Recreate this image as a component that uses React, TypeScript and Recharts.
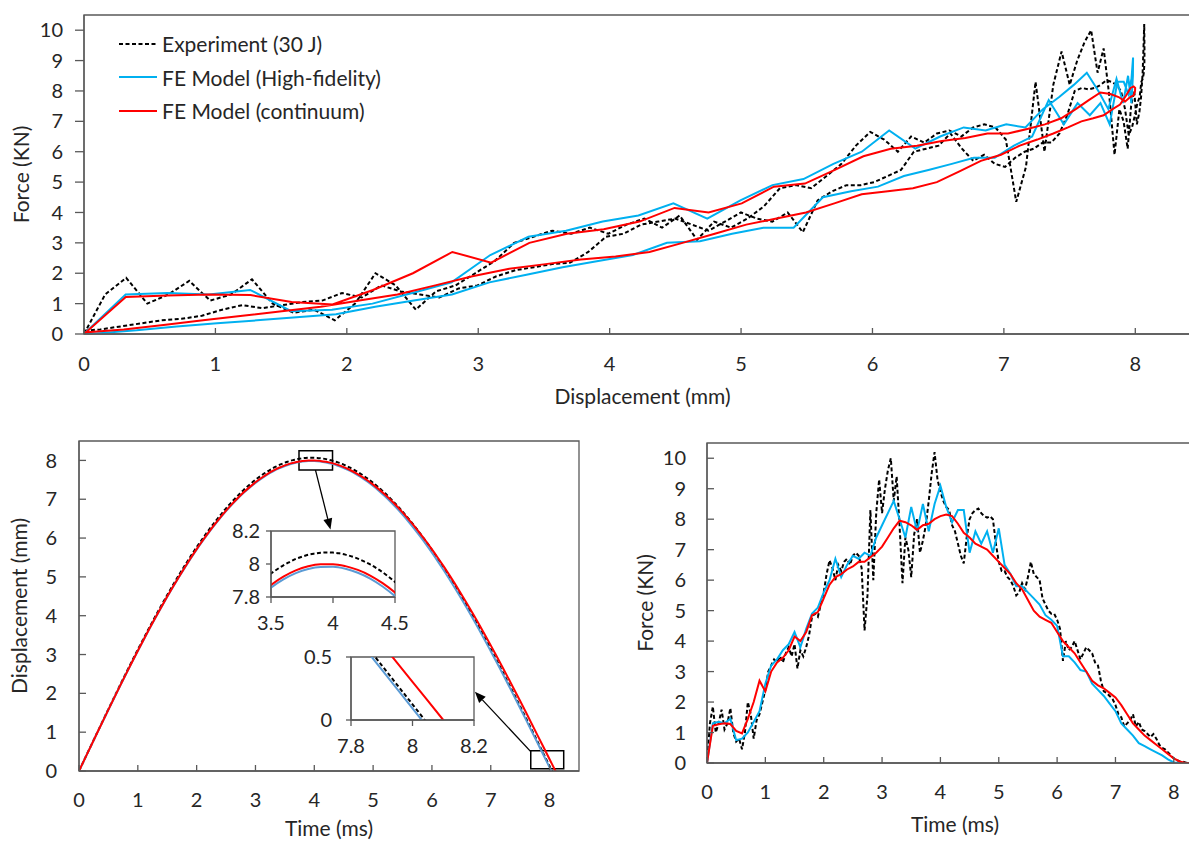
import React from "react";
import {
  LineChart,
  Line,
  XAxis,
  YAxis,
  ReferenceArea,
  ReferenceLine,
  Legend,
  Label,
} from "recharts";

// sampling times (ms)
const simTime = [
  0, 0.1, 0.2, 0.3, 0.4, 0.5, 0.6, 0.7, 0.8, 0.9,
  1, 1.1, 1.2, 1.3, 1.4, 1.5, 1.6, 1.7, 1.8, 1.9,
  2, 2.1, 2.2, 2.3, 2.4, 2.5, 2.6, 2.7, 2.8, 2.9,
  3, 3.1, 3.2, 3.3, 3.4, 3.5, 3.6, 3.7, 3.8, 3.9,
  4, 4.1, 4.2, 4.3, 4.4, 4.5, 4.6, 4.7, 4.8, 4.9,
  5, 5.1, 5.2, 5.3, 5.4, 5.5, 5.6, 5.7, 5.8, 5.9,
  6, 6.1, 6.2, 6.3, 6.4, 6.5, 6.6, 6.7, 6.8, 6.9,
  7, 7.1, 7.2, 7.3, 7.4, 7.5, 7.6, 7.7, 7.8, 7.9,
  8, 8.1, 8.2, 8.3,
];

const expTime = [
  0, 0.05, 0.1, 0.15, 0.2, 0.25, 0.3, 0.35, 0.4, 0.45, 0.5, 0.55, 0.6, 0.65, 0.7, 0.75, 0.8, 0.85, 0.9, 0.95,
  1, 1.05, 1.1, 1.15, 1.2, 1.25, 1.3, 1.35, 1.4, 1.45, 1.5, 1.55, 1.6, 1.65, 1.7, 1.75, 1.8, 1.85, 1.9, 1.95,
  2, 2.05, 2.1, 2.15, 2.2, 2.25, 2.3, 2.35, 2.4, 2.45, 2.5, 2.55, 2.6, 2.65, 2.7, 2.75, 2.8, 2.85, 2.9, 2.95,
  3, 3.05, 3.1, 3.15, 3.2, 3.25, 3.3, 3.35, 3.4, 3.45, 3.5, 3.55, 3.6, 3.65, 3.7, 3.75, 3.8, 3.85, 3.9, 3.95,
  4, 4.05, 4.1, 4.15, 4.2, 4.25, 4.3, 4.35, 4.4, 4.45, 4.5, 4.55, 4.6, 4.65, 4.7, 4.75, 4.8, 4.85, 4.9, 4.95,
  5, 5.05, 5.1, 5.15, 5.2, 5.25, 5.3, 5.35, 5.4, 5.45, 5.5, 5.55, 5.6, 5.65, 5.7, 5.75, 5.8, 5.85, 5.9, 5.95,
  6, 6.05, 6.1, 6.15, 6.2, 6.25, 6.3, 6.35, 6.4, 6.45, 6.5, 6.55, 6.6, 6.65, 6.7, 6.75, 6.8, 6.85, 6.9, 6.95,
  7, 7.05, 7.1, 7.15, 7.2, 7.25, 7.3, 7.35, 7.4, 7.45, 7.5, 7.55, 7.6, 7.65, 7.7, 7.75, 7.8, 7.85, 7.9, 7.95,
  8, 8.05, 8.1, 8.15, 8.2, 8.25, 8.3,
];

// force (kN)
const expForce = [
  0, 1.3, 1.85, 1.0, 1.3, 1.75, 1.1, 1.3, 1.8, 1.0, 0.7, 0.8, 0.45, 1.0, 2.0, 1.6, 0.8, 1.4, 1.6, 2.0,
  2.4, 3.0, 3.2, 3.4, 3.3, 3.5, 3.3, 3.6, 3.8, 3.5, 3.9, 3.1, 3.7, 3.5, 3.8, 4.2, 4.8, 4.9, 4.8, 5.2,
  5.6, 6.2, 6.65, 6.4, 6.0, 6.5, 6.3, 6.6, 6.7, 6.5, 6.8, 6.9, 6.8, 6.4, 4.35, 5.5, 8.3, 6.0, 8.2, 9.3,
  8.2, 9.0, 9.6, 10.0, 8.6, 9.4, 7.8, 5.9, 7.4, 7.0, 6.1, 7.5, 8.0, 6.9, 7.3, 7.8, 8.6, 9.5, 10.2, 9.3,
  8.9, 8.6, 8.4, 8.3, 7.8, 7.6, 7.2, 6.8, 6.55, 7.4, 8.0, 8.2, 8.3, 8.35, 8.2, 8.1, 8.05, 8.1, 8.0, 7.2,
  6.6, 6.3, 6.3, 6.1, 6.0, 5.8, 5.5, 5.6, 5.9, 5.7, 6.1, 6.6, 6.2, 6.1, 6.0, 5.4, 5.2, 5.0, 4.9, 4.9,
  4.7, 4.4, 3.35, 4.0, 3.7, 3.8, 4.0, 3.7, 3.4, 3.6, 3.8, 3.7, 3.6, 3.3, 3.2, 2.7, 2.35, 2.3, 2.2, 2.1,
  1.9, 1.6, 1.5, 1.2, 1.3, 1.4, 1.6, 1.2, 1.35, 1.1, 1.05, 0.95, 0.85, 0.95, 0.8, 0.6, 0.5, 0.45, 0.35, 0.25,
  0.15, 0.1, 0.05, 0.05, 0.02, 0, 0,
];

const hfForce = [
  0, 1.3, 1.35, 1.3, 1.45, 0.75, 0.8, 1.0, 1.35, 1.7,
  2.6, 3.2, 3.4, 3.7, 3.9, 4.3, 3.8, 4.4, 4.9, 5.1,
  5.6, 6.0, 6.7, 6.1, 6.5, 6.8, 6.7, 6.9, 6.8, 7.4,
  7.8, 8.2, 8.6, 8.0, 7.4, 8.4, 7.6, 8.5, 7.6, 8.5,
  9.1, 8.4, 7.9, 8.3, 8.3, 6.9, 7.6, 7.2, 7.6, 6.9,
  7.7, 6.5, 6.2, 5.8, 5.8, 5.6, 5.4, 5.2, 4.85, 4.7,
  4.5, 3.5, 3.5, 3.3, 3.05, 3.0, 2.6, 2.4, 2.2, 1.95,
  1.7, 1.3, 1.1, 0.9, 0.65, 0.55, 0.45, 0.35, 0.25, 0.12,
  0.02, 0, null, null,
];

const ctForce = [
  0, 1.22, 1.27, 1.3, 1.28, 1.05, 0.97, 1.45, 2.0, 2.7,
  2.35, 3.0, 3.3, 3.45, 3.7, 4.15, 4.0, 4.3, 4.85, 4.95,
  5.4, 5.85, 6.1, 6.2, 6.35, 6.45, 6.6, 6.6, 6.75, 6.9,
  7.1, 7.4, 7.7, 7.95, 7.9, 7.8, 7.65, 7.8, 7.85, 8.0,
  8.1, 8.15, 8.1, 7.85, 7.55, 7.4, 7.2, 7.1, 7.0, 6.8,
  6.6, 6.4, 6.2, 5.9, 5.7, 5.35, 5.0, 4.8, 4.7, 4.6,
  4.3, 4.0, 3.8, 3.6, 3.3, 3.0, 2.7, 2.55, 2.45, 2.3,
  2.15, 1.9, 1.6, 1.3, 1.1, 0.9, 0.75, 0.6, 0.45, 0.3,
  0.15, 0.05, 0, 0,
];

// displacement (mm)
const expDisp = [
  0, 0.161, 0.321, 0.482, 0.642, 0.801, 0.96, 1.119, 1.278, 1.436, 1.594, 1.751, 1.908, 2.063, 2.218, 2.372, 2.525, 2.677, 2.828, 2.977,
  3.125, 3.273, 3.419, 3.563, 3.707, 3.849, 3.99, 4.128, 4.264, 4.399, 4.533, 4.665, 4.795, 4.923, 5.049, 5.173, 5.296, 5.416, 5.534, 5.65,
  5.764, 5.874, 5.983, 6.089, 6.193, 6.294, 6.394, 6.49, 6.585, 6.676, 6.766, 6.851, 6.935, 7.015, 7.094, 7.168, 7.241, 7.309, 7.376, 7.439,
  7.501, 7.558, 7.613, 7.664, 7.713, 7.759, 7.803, 7.842, 7.879, 7.911, 7.942, 7.968, 7.992, 8.012, 8.031, 8.044, 8.056, 8.063, 8.068, 8.07,
  8.069, 8.065, 8.057, 8.046, 8.033, 8.016, 7.997, 7.975, 7.95, 7.922, 7.891, 7.857, 7.82, 7.78, 7.737, 7.692, 7.644, 7.593, 7.539, 7.482,
  7.423, 7.36, 7.295, 7.228, 7.158, 7.085, 7.009, 6.931, 6.85, 6.767, 6.681, 6.593, 6.503, 6.41, 6.315, 6.217, 6.116, 6.014, 5.91, 5.803,
  5.694, 5.583, 5.47, 5.355, 5.238, 5.12, 4.999, 4.877, 4.752, 4.627, 4.499, 4.37, 4.238, 4.106, 3.972, 3.837, 3.7, 3.563, 3.424, 3.283,
  3.138, 2.994, 2.85, 2.704, 2.558, 2.411, 2.263, 2.114, 1.964, 1.813, 1.662, 1.51, 1.357, 1.204, 1.051, 0.897, 0.743, 0.589, 0.434, 0.279,
  0.124, -0.031, null, null, null, null, null,
];

const hfDisp = [
  0, 0.317, 0.635, 0.95, 1.264, 1.577, 1.887, 2.195, 2.498, 2.797,
  3.092, 3.382, 3.668, 3.947, 4.219, 4.485, 4.743, 4.995, 5.239, 5.475,
  5.703, 5.919, 6.127, 6.326, 6.515, 6.694, 6.861, 7.018, 7.164, 7.297,
  7.421, 7.532, 7.631, 7.719, 7.795, 7.857, 7.907, 7.945, 7.97, 7.982,
  7.983, 7.971, 7.947, 7.912, 7.864, 7.805, 7.735, 7.654, 7.561, 7.456,
  7.341, 7.215, 7.077, 6.93, 6.772, 6.604, 6.426, 6.239, 6.042, 5.837,
  5.623, 5.4, 5.17, 4.932, 4.687, 4.436, 4.177, 3.913, 3.642, 3.367,
  3.085, 2.8, 2.51, 2.216, 1.918, 1.618, 1.316, 1.012, 0.706, 0.4,
  0.092, -0.215, null, null,
];

const ctDisp = [
  0, 0.318, 0.636, 0.952, 1.267, 1.58, 1.891, 2.199, 2.503, 2.803,
  3.098, 3.389, 3.675, 3.955, 4.227, 4.494, 4.753, 5.005, 5.25, 5.486,
  5.714, 5.931, 6.139, 6.339, 6.528, 6.707, 6.875, 7.032, 7.178, 7.312,
  7.436, 7.547, 7.646, 7.735, 7.811, 7.873, 7.923, 7.961, 7.986, 7.998,
  7.999, 7.987, 7.964, 7.93, 7.884, 7.827, 7.759, 7.68, 7.59, 7.488,
  7.376, 7.254, 7.121, 6.978, 6.825, 6.662, 6.49, 6.308, 6.117, 5.918,
  5.71, 5.494, 5.27, 5.039, 4.8, 4.555, 4.303, 4.045, 3.781, 3.512,
  3.236, 2.956, 2.673, 2.385, 2.095, 1.801, 1.505, 1.206, 0.906, 0.605,
  0.303, 0, -0.3, null,
];

const seriesNames = ["Experiment (30 J)", "FE Model (High-fidelity)", "FE Model (continuum)"];

// tick labels
const forceTicks = [0, 1, 2, 3, 4, 5, 6, 7, 8, 9, 10];
const mmTicks = [0, 1, 2, 3, 4, 5, 6, 7, 8];
const msTicks = [0, 1, 2, 3, 4, 5, 6, 7, 8];
const peakTimeTicks = [3.5, 4, 4.5];
const peakDispTicks = [7.8, 8, 8.2];
const endTimeTicks = [7.8, 8, 8.2];
const endDispTicks = [0, 0.5];

// zoom windows and arrows on the displacement-time plot
const zoomBoxes = [
  { x1: 3.74, x2: 4.31, y1: 7.75, y2: 8.25 },
  { x1: 7.68, x2: 8.24, y1: 0.06, y2: 0.52 },
];
const arrows = [
  [{ x: 4.02, y: 7.75 }, { x: 4.275, y: 6.22 }],
  [{ x: 7.68, y: 0.5 }, { x: 6.73, y: 2.04 }],
];

const FONT = "Lato, 'Open Sans', sans-serif";
const AXIS = "#595959";
const TXT = "#262626";

const styles = [
  { color: "#000000", dispColor: "#000000", dash: "4 2.5" },
  { color: "#00B0F0", dispColor: "#5B9BD5", dash: undefined },
  { color: "#FF0000", dispColor: "#FF0000", dash: undefined },
];

const raw = [
  { time: expTime, force: expForce, disp: expDisp },
  { time: simTime, force: hfForce, disp: hfDisp },
  { time: simTime, force: ctForce, disp: ctDisp },
];

const series = raw.map((r, i) => ({
  name: seriesNames[i],
  ...styles[i],
  forceTime: r.time.map((t, k) => ({ t, v: r.force[k] })).filter((p) => p.v !== null),
  dispTime: r.time.map((t, k) => ({ t, v: r.disp[k] })).filter((p) => p.v !== null),
  loop: r.time
    .map((_, k) => ({ d: r.disp[k], f: r.force[k] }))
    .filter((p) => p.d !== null && p.f !== null),
}));

function inTickX(len: number, gap: number, size = 20) {
  return (p: any) => {
    const axisY = p.y - gap;
    return (
      <g>
        <line x1={p.x} x2={p.x} y1={axisY} y2={axisY - len} stroke={AXIS} strokeWidth={1.3} />
        <text x={p.x} y={p.y} dy="0.71em" textAnchor="middle" fill={TXT} fontSize={size} fontFamily={FONT}>
          {p.payload.value}
        </text>
      </g>
    );
  };
}

function inTickY(len: number, gap: number, size = 20) {
  return (p: any) => {
    const axisX = p.x + gap;
    return (
      <g>
        <line x1={axisX} x2={axisX + len} y1={p.y} y2={p.y} stroke={AXIS} strokeWidth={1.3} />
        <text x={p.x} y={p.y} dy="0.355em" textAnchor="end" fill={TXT} fontSize={size} fontFamily={FONT}>
          {p.payload.value}
        </text>
      </g>
    );
  };
}

const tickStyle = { fill: TXT, fontSize: 20, fontFamily: FONT };
const axisLine = { stroke: AXIS, strokeWidth: 1.3 };

const ArrowShape = (p: any) => {
  const { x1, y1, x2, y2 } = p;
  const a = Math.atan2(y2 - y1, x2 - x1);
  const L = 11;
  const W = 4.5;
  const bx = x2 - L * Math.cos(a);
  const by = y2 - L * Math.sin(a);
  const pts = `${x2},${y2} ${bx + W * Math.sin(a)},${by - W * Math.cos(a)} ${bx - W * Math.sin(a)},${by + W * Math.cos(a)}`;
  return (
    <g>
      <line x1={x1} y1={y1} x2={bx} y2={by} stroke="#000" strokeWidth={1.3} />
      <polygon points={pts} fill="#000" />
    </g>
  );
};

const renderLegend = () => (
  <div style={{ fontFamily: FONT, fontSize: 21, color: TXT }}>
    {series.map((s) => (
      <div key={s.name} style={{ display: "flex", alignItems: "center", height: 33.5 }}>
        <svg width={40} height={10}>
          <line x1={1} x2={39} y1={5} y2={5} stroke={s.color} strokeWidth={2} strokeDasharray={s.dash} />
        </svg>
        <span style={{ marginLeft: 4, lineHeight: 1, whiteSpace: "nowrap" }}>{s.name}</span>
      </div>
    ))}
  </div>
);

function ForceDisplacement() {
  return (
    <LineChart width={1215} height={410} margin={{ top: 15, right: 14, bottom: 4, left: 0 }}>
      <XAxis
        type="number"
        dataKey="d"
        domain={[0, 8.5]}
        ticks={mmTicks}
        allowDataOverflow
        height={72}
        axisLine={axisLine}
        tickLine={false}
        tickSize={0}
        tickMargin={23}
        tick={inTickX(6, 23)}
      >
        <Label value="Displacement (mm)" position="insideBottom" offset={2} fontSize={21} fill={TXT} fontFamily={FONT} />
      </XAxis>
      <YAxis
        type="number"
        dataKey="f"
        domain={[0, 10.5]}
        ticks={forceTicks}
        allowDataOverflow
        width={84}
        axisLine={axisLine}
        tickLine={axisLine}
        tickSize={9}
        tickMargin={12}
        tick={tickStyle}
      >
        <Label value="Force (KN)" angle={-90} position="insideLeft" offset={22} fontSize={21} fill={TXT} fontFamily={FONT} style={{ textAnchor: "middle" }} />
      </YAxis>
      <ReferenceArea x1={0} x2={8.5} y1={0} y2={10.5} fill="none" stroke={AXIS} strokeWidth={1.3} />
      {series.map((s) => (
        <Line
          key={s.name}
          data={s.loop}
          dataKey="f"
          name={s.name}
          type="linear"
          stroke={s.color}
          strokeWidth={2}
          strokeDasharray={s.dash}
          dot={false}
          isAnimationActive={false}
        />
      ))}
      <Legend
        layout="vertical"
        align="center"
        verticalAlign="middle"
        content={renderLegend}
        wrapperStyle={{ left: 118, top: 27, width: 340 }}
      />
    </LineChart>
  );
}

function DisplacementTime() {
  return (
    <LineChart width={600} height={421} margin={{ top: 21, right: 21, bottom: 0, left: 0 }}>
      <XAxis
        type="number"
        dataKey="t"
        domain={[0, 8.5]}
        ticks={msTicks}
        allowDataOverflow
        height={70}
        axisLine={axisLine}
        tickLine={false}
        tickSize={0}
        tickMargin={22}
        tick={inTickX(6, 22)}
      >
        <Label value="Time (ms)" position="insideBottom" offset={5} fontSize={21} fill={TXT} fontFamily={FONT} />
      </XAxis>
      <YAxis
        type="number"
        dataKey="v"
        domain={[0, 8.5]}
        ticks={mmTicks}
        allowDataOverflow
        width={79}
        axisLine={axisLine}
        tickLine={false}
        tickSize={0}
        tickMargin={22}
        tick={inTickY(7, 22)}
      >
        <Label value="Displacement (mm)" angle={-90} position="insideLeft" offset={20} fontSize={21} fill={TXT} fontFamily={FONT} style={{ textAnchor: "middle" }} />
      </YAxis>
      <ReferenceArea x1={0} x2={8.5} y1={0} y2={8.5} fill="none" stroke={AXIS} strokeWidth={1.3} />
      {series.map((s) => (
        <Line
          key={s.name}
          data={s.dispTime}
          dataKey="v"
          type="monotone"
          stroke={s.dispColor}
          strokeWidth={2}
          strokeDasharray={s.dash}
          dot={false}
          isAnimationActive={false}
        />
      ))}
      {zoomBoxes.map((b, i) => (
        <ReferenceArea key={i} {...b} fill="none" stroke="#000" strokeWidth={1.5} />
      ))}
      {arrows.map((seg, i) => (
        <ReferenceLine key={i} segment={seg} ifOverflow="visible" shape={ArrowShape} />
      ))}
    </LineChart>
  );
}

function Inset({
  xDomain,
  yDomain,
  xTicks,
  yTicks,
  width,
  height,
  margin,
  yWidth,
  xHeight,
  yGap,
  xGap,
}: any) {
  return (
    <LineChart width={width} height={height} margin={margin}>
      <XAxis
        type="number"
        dataKey="t"
        domain={xDomain}
        ticks={xTicks}
        allowDataOverflow
        height={xHeight}
        axisLine={axisLine}
        tickLine={axisLine}
        tickSize={6}
        tickMargin={xGap}
        tick={tickStyle}
      />
      <YAxis
        type="number"
        dataKey="v"
        domain={yDomain}
        ticks={yTicks}
        allowDataOverflow
        width={yWidth}
        axisLine={axisLine}
        tickLine={axisLine}
        tickSize={5}
        tickMargin={yGap}
        tick={tickStyle}
      />
      <ReferenceArea x1={xDomain[0]} x2={xDomain[1]} y1={yDomain[0]} y2={yDomain[1]} fill="#fff" fillOpacity={0} stroke={AXIS} strokeWidth={1.3} />
      {series.map((s) => (
        <Line
          key={s.name}
          data={s.dispTime}
          dataKey="v"
          type="monotone"
          stroke={s.dispColor}
          strokeWidth={2}
          strokeDasharray={s.dash}
          dot={false}
          isAnimationActive={false}
        />
      ))}
    </LineChart>
  );
}

function ForceTime() {
  return (
    <LineChart width={615} height={421} margin={{ top: 23, right: 12, bottom: 4, left: 0 }}>
      <XAxis
        type="number"
        dataKey="t"
        domain={[0, 8.5]}
        ticks={msTicks}
        allowDataOverflow
        height={74}
        axisLine={axisLine}
        tickLine={false}
        tickSize={0}
        tickMargin={22}
        tick={inTickX(6, 22)}
      >
        <Label value="Time (ms)" position="insideBottom" offset={5} fontSize={21} fill={TXT} fontFamily={FONT} />
      </XAxis>
      <YAxis
        type="number"
        dataKey="v"
        domain={[0, 10.5]}
        ticks={forceTicks}
        allowDataOverflow
        width={107}
        axisLine={axisLine}
        tickLine={false}
        tickSize={0}
        tickMargin={21}
        tick={inTickY(7, 21)}
      >
        <Label value="Force (KN)" angle={-90} position="insideLeft" offset={46} fontSize={21} fill={TXT} fontFamily={FONT} style={{ textAnchor: "middle" }} />
      </YAxis>
      <ReferenceArea x1={0} x2={8.5} y1={0} y2={10.5} fill="none" stroke={AXIS} strokeWidth={1.3} />
      {series.map((s) => (
        <Line
          key={s.name}
          data={s.forceTime}
          dataKey="v"
          type="linear"
          stroke={s.color}
          strokeWidth={2}
          strokeDasharray={s.dash}
          dot={false}
          isAnimationActive={false}
        />
      ))}
    </LineChart>
  );
}

export default function App() {
  return (
    <div
      style={{
        position: "fixed",
        left: 0,
        top: 0,
        width: 1189,
        height: 841,
        overflow: "hidden",
        background: "#fff",
        fontFamily: FONT,
      }}
    >
      <div style={{ position: "absolute", left: 0, top: 0 }}>
        <ForceDisplacement />
      </div>
      <div style={{ position: "absolute", left: 0, top: 420 }}>
        <DisplacementTime />
      </div>
      <div style={{ position: "absolute", left: 200, top: 500 }}>
        <Inset
          xDomain={[3.5, 4.5]}
          yDomain={[7.8, 8.2]}
          xTicks={peakTimeTicks}
          yTicks={peakDispTicks}
          width={210}
          height={140}
          margin={{ top: 31, right: 15, bottom: 0, left: 0 }}
          yWidth={71}
          xHeight={43}
          yGap={6}
          xGap={13}
        />
      </div>
      <div style={{ position: "absolute", left: 280, top: 630 }}>
        <Inset
          xDomain={[7.8, 8.2]}
          yDomain={[0, 0.5]}
          xTicks={endTimeTicks}
          yTicks={endDispTicks}
          width={210}
          height={130}
          margin={{ top: 27, right: 16, bottom: 0, left: 0 }}
          yWidth={71}
          xHeight={40}
          yGap={14}
          xGap={13}
        />
      </div>
      <div style={{ position: "absolute", left: 600, top: 420 }}>
        <ForceTime />
      </div>
    </div>
  );
}
